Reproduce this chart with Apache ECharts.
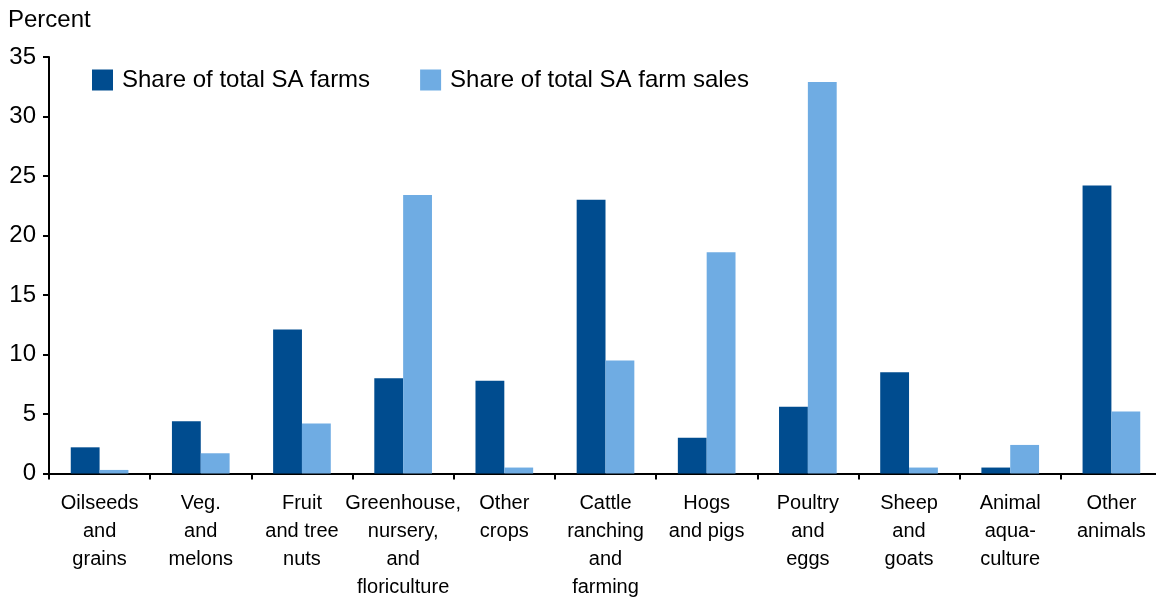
<!DOCTYPE html>
<html>
<head>
<meta charset="utf-8">
<script src="https://cdn.jsdelivr.net/npm/echarts@6/dist/echarts.min.js"></script>
<style>
html,body{margin:0;padding:0;background:#fff;}
#chart{width:1156px;height:601px;}
</style>
</head>
<body>
<div id="chart"></div>
<script>
const categories = [
  "Oilseeds\nand\ngrains",
  "Veg.\nand\nmelons",
  "Fruit\nand tree\nnuts",
  "Greenhouse,\nnursery,\nand\nfloriculture",
  "Other\ncrops",
  "Cattle\nranching\nand\nfarming",
  "Hogs\nand pigs",
  "Poultry\nand\neggs",
  "Sheep\nand\ngoats",
  "Animal\naqua-\nculture",
  "Other\nanimals"
];
const shareFarms = [2.2, 4.4, 12.1, 8.0, 7.8, 23.0, 3.0, 5.6, 8.5, 0.5, 24.2];
const shareSales = [0.3, 1.7, 4.2, 23.4, 0.5, 9.5, 18.6, 32.9, 0.5, 2.4, 5.2];
const seriesNames = ["Share of total SA farms", "Share of total SA farm sales"];
const yTicks = { min: 0, max: 35, interval: 5 };

const FONT = '"Liberation Sans", Arial, Helvetica, sans-serif';
const chart = echarts.init(document.getElementById('chart'), null, { renderer: 'canvas' });
chart.setOption({
  animation: false,
  backgroundColor: '#ffffff',
  title: {
    text: 'Percent',
    left: 8,
    top: 8,
    padding: 0,
    textStyle: { fontFamily: FONT, fontSize: 24, fontWeight: 'normal', color: '#000' }
  },
  legend: {
    left: 92,
    top: 68,
    padding: 0,
    itemWidth: 21,
    itemHeight: 21,
    itemGap: 50,
    icon: 'rect',
    textStyle: { fontFamily: FONT, fontSize: 24, color: '#000', padding: [2, 0, 0, 4] },
    data: seriesNames
  },
  grid: { left: 49, width: 1113, top: 57, bottom: 127.5, containLabel: false, outerBoundsMode: 'none' },
  xAxis: {
    type: 'category',
    data: categories,
    axisLine: { lineStyle: { color: '#000', width: 2 } },
    axisTick: { show: true, length: 6, lineStyle: { color: '#000', width: 2 } },
    axisLabel: {
      interval: 0,
      margin: 16,
      fontFamily: FONT,
      fontSize: 20,
      lineHeight: 28,
      color: '#000',
      align: 'center'
    }
  },
  yAxis: {
    type: 'value',
    min: yTicks.min,
    max: yTicks.max,
    interval: yTicks.interval,
    axisLine: { show: true, lineStyle: { color: '#000', width: 2 } },
    axisTick: { show: true, length: 6, lineStyle: { color: '#000', width: 2 } },
    splitLine: { show: false },
    axisLabel: { margin: 13, fontFamily: FONT, fontSize: 24, color: '#000' }
  },
  series: [
    {
      name: seriesNames[0],
      type: 'bar',
      data: shareFarms,
      barGap: '0%',
      barCategoryGap: '43%',
      itemStyle: { color: '#004C8F' }
    },
    {
      name: seriesNames[1],
      type: 'bar',
      data: shareSales,
      barGap: '0%',
      barCategoryGap: '43%',
      itemStyle: { color: '#6FACE3' }
    }
  ]
});
</script>
</body>
</html>
